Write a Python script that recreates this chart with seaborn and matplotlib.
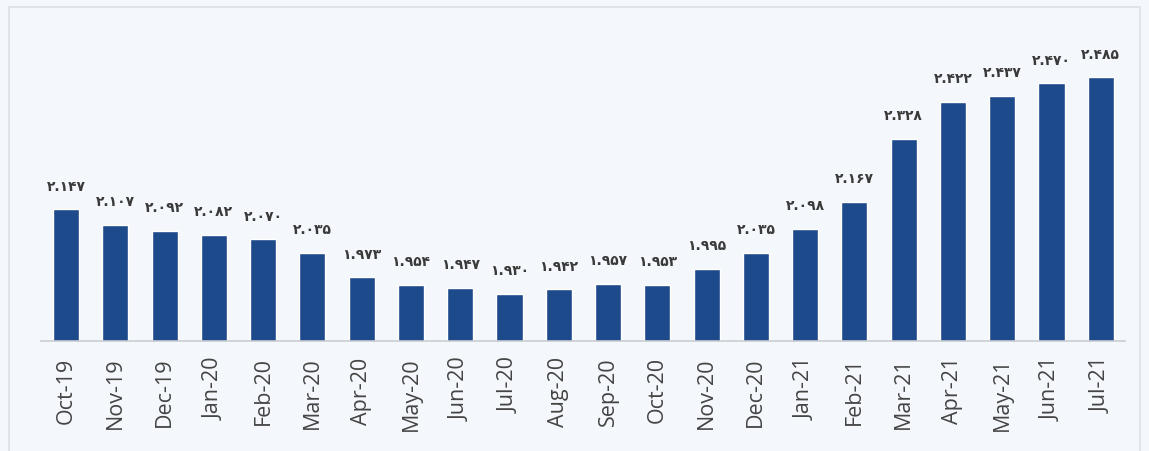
import matplotlib
matplotlib.use("Agg")
import matplotlib.pyplot as plt
import matplotlib.patches as mpatches
import seaborn as sns
import pandas as pd

# Monthly values (thousands), Oct-2019 .. Jul-2021
months = ["Oct-19", "Nov-19", "Dec-19", "Jan-20", "Feb-20", "Mar-20", "Apr-20",
          "May-20", "Jun-20", "Jul-20", "Aug-20", "Sep-20", "Oct-20", "Nov-20",
          "Dec-20", "Jan-21", "Feb-21", "Mar-21", "Apr-21", "May-21", "Jun-21",
          "Jul-21"]
values = [2.147, 2.107, 2.092, 2.082, 2.070, 2.035, 1.973,
          1.954, 1.947, 1.930, 1.942, 1.957, 1.953, 1.995,
          2.035, 2.098, 2.167, 2.328, 2.422, 2.437, 2.470,
          2.485]

PERSIAN_DIGITS = str.maketrans("0123456789", "۰۱۲۳۴۵۶۷۸۹")


def to_persian(v):
    return f"{v:.3f}".translate(PERSIAN_DIGITS)


df = pd.DataFrame({"month": months, "value": values})

sns.set_theme(style="white")
plt.rcParams["font.family"] = ["DejaVu Sans"]

bg = "#f4f7fb"
bar_color = "#1d4a8a"

fig = plt.figure(figsize=(11.49, 4.52), dpi=100, facecolor=bg)
ax = fig.add_axes([41.4 / 1149, 110 / 452, 1084 / 1149, 308.5 / 452])
ax.set_facecolor(bg)

sns.barplot(data=df, x="month", y="value", color=bar_color, width=0.53,
            saturation=1, ax=ax)

ax.set_ylim(1.81, 2.60)
ax.set_xlim(-0.5, len(months) - 0.5)

for i, v in enumerate(values):
    ax.annotate(to_persian(v), xy=(i, v), xytext=(0, 12),
                textcoords="offset points", ha="center", va="bottom",
                fontsize=10, fontweight="bold", color="#3a3a3a")

ax.set_xlabel("")
ax.set_ylabel("")
ax.set_yticks([])
ax.tick_params(axis="x", length=0, pad=11)
ax.set_xticks(range(len(months)))
ax.set_xticklabels(months, rotation=90, fontsize=15.5, color="#444444",
                   family=["Open Sans", "DejaVu Sans"])

for side in ("top", "left", "right"):
    ax.spines[side].set_visible(False)
ax.spines["bottom"].set_color("#c9ccd1")
ax.spines["bottom"].set_linewidth(1.2)

# faint frame around the chart area
fig.patches.append(mpatches.Rectangle((9 / 1149, -0.02), 1131 / 1149, 1.0 - 8 / 452 + 0.02,
                                      transform=fig.transFigure, fill=False,
                                      edgecolor="#dde1e7", linewidth=1.2))

fig.savefig("out.png", dpi=100, facecolor=bg)
